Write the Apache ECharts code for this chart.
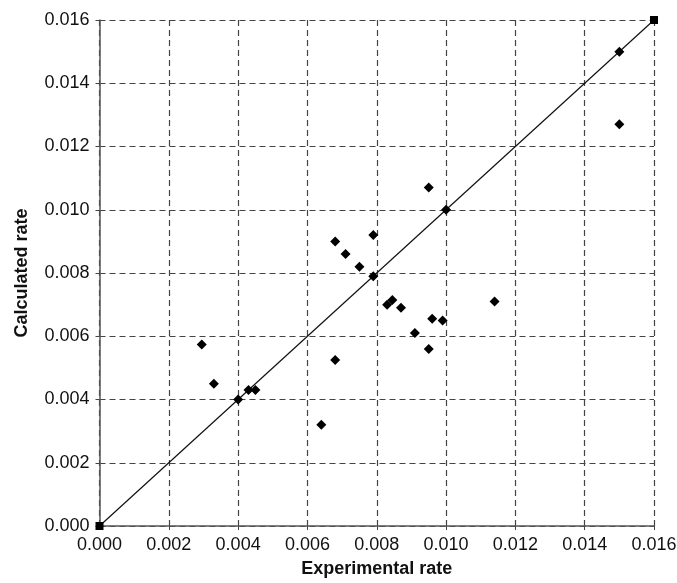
<!DOCTYPE html>
<html>
<head>
<meta charset="utf-8">
<script src="https://cdn.jsdelivr.net/npm/echarts@6/dist/echarts.min.js"></script>
<style>
  html, body { margin: 0; padding: 0; background: #fff; }
  #chart { width: 677px; height: 583px; }
</style>
</head>
<body>
<div id="chart"></div>
<script>
// Experimental vs calculated rates
const experimental = [0.0150, 0.0150, 0.0095, 0.0100, 0.0079, 0.0068, 0.0071, 0.0075,
  0.0079, 0.00845, 0.0083, 0.0087, 0.0114, 0.0096, 0.0099, 0.0091, 0.0095, 0.0068,
  0.0064, 0.00295, 0.0033, 0.0040, 0.0043, 0.0045];
const calculated = [0.0150, 0.0127, 0.0107, 0.0100, 0.0092, 0.0090, 0.0086, 0.0082,
  0.0079, 0.00715, 0.0070, 0.0069, 0.0071, 0.00655, 0.0065, 0.0061, 0.0056, 0.00525,
  0.0032, 0.00574, 0.0045, 0.0040, 0.0043, 0.0043];

// Parity line end points
const parityX = [0, 0.016];
const parityY = [0, 0.016];

const font = 'Liberation Sans, Arial, sans-serif';

const chart = echarts.init(document.getElementById('chart'), null, { renderer: 'canvas' });

function axis(name, isY) {
  return {
    type: 'value',
    min: 0,
    max: 0.016,
    interval: 0.002,
    name: name,
    nameLocation: 'middle',
    nameGap: isY ? 68 : 34,
    nameTextStyle: { fontFamily: font, fontSize: 18, fontWeight: 'bold', color: '#111' },
    axisLine: { show: true, onZero: false, lineStyle: { color: '#555', width: 1.5 } },
    axisTick: { show: true, length: 4, lineStyle: { color: '#444' } },
    axisLabel: {
      fontFamily: font, fontSize: 18, color: '#111', margin: 10,
      formatter: v => v.toFixed(3)
    },
    splitLine: { show: true, lineStyle: { color: '#444', type: [6, 4], width: 1.2 } }
  };
}

chart.setOption({
  animation: false,
  backgroundColor: '#fff',
  grid: { left: 99.5, right: 23, top: 20, bottom: 57, containLabel: false, outerBoundsMode: 'none' },
  xAxis: axis('Experimental rate', false),
  yAxis: axis('Calculated rate', true),
  series: [
    {
      type: 'line',
      data: parityX.map((x, i) => [x, parityY[i]]),
      symbol: 'rect',
      symbolSize: 8,
      showSymbol: true,
      lineStyle: { color: '#111', width: 1.2 },
      itemStyle: { color: '#000' },
      z: 3
    },
    {
      type: 'scatter',
      data: experimental.map((x, i) => [x, calculated[i]]),
      symbol: 'diamond',
      symbolSize: 10,
      itemStyle: { color: '#000', opacity: 1 },
      z: 4
    }
  ]
});
</script>
</body>
</html>
